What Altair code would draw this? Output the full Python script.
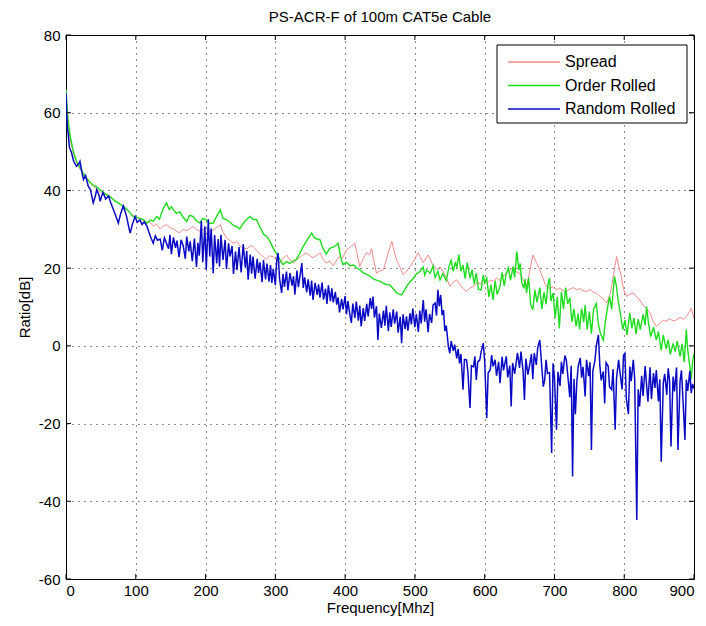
import altair as alt
import pandas as pd

# ---------------- data ----------------
chart_title = "PS-ACR-F of 100m CAT5e Cable"
x_title = "Frequency[Mhz]"
y_title = "Ratio[dB]"
x_ticks = [0, 100, 200, 300, 400, 500, 600, 700, 800, 900]
y_ticks = [-60, -40, -20, 0, 20, 40, 60, 80]
series_names = ["Spread", "Order Rolled", "Random Rolled"]
series_colors = ["#EE8C8C", "#1EDC1E", "#0A0AC4"]

# (frequency MHz, ratio dB)
spread_points = [
    (0, 66), (1, 62), (3, 57), (6, 53), (10, 50), (15, 47.2), (20, 45.5), (25, 44), (30, 42.8),
    (35, 42), (40, 41), (45, 40.2), (50, 39.5), (57, 38.8), (63, 38.3), (70, 37.4), (75, 36.8),
    (80, 36.2), (85, 35.5), (90, 34.6), (96, 33.5), (100, 33.2), (105, 32.8), (110, 32.2),
    (116, 31.5), (120, 31.9), (125, 30.8), (130, 31.4), (135, 30), (140, 30.9), (144, 31.2),
    (149, 30.4), (154, 30.2), (158, 29.5), (163, 29.1), (168, 30), (173, 29.6), (178, 30.2),
    (182, 30.8), (187, 29.9), (192, 29.5), (197, 30.1), (201, 28.7), (206, 29.4), (211, 29.8),
    (216, 30.5), (221, 31.2), (225, 29.3), (230, 27.8), (235, 27.1), (240, 26.4), (245, 26.9),
    (249, 25.7), (254, 25.2), (259, 24.9), (264, 25.8), (268, 25.6), (273, 24.6), (278, 23.6),
    (283, 22.9), (287, 22.2), (292, 23.2), (297, 22.9), (302, 22.1), (306, 21.3), (311, 22.5),
    (316, 23.4), (321, 22.1), (326, 21.3), (331, 22.3), (335, 22.8), (340, 23.5), (345, 23.9),
    (350, 23.1), (354, 22.7), (359, 23.3), (364, 23.9), (368, 22.4), (373, 21.3), (378, 21.9),
    (383, 20.6), (388, 22.1), (392, 23), (396, 22.5), (402, 24.7), (408, 25.5), (414, 26.4),
    (417, 23.8), (421, 20.4), (426, 22.5), (431, 24), (435, 23.4), (438, 25), (441, 22),
    (445, 18.7), (450, 19.3), (455, 19.6), (461, 23.5), (467, 26.9), (470, 24.5), (474, 22),
    (479, 20.1), (483, 18.3), (488, 19.2), (493, 20.4), (499, 22.1), (505, 24), (508, 22.8),
    (512, 21.4), (516, 22.6), (519, 23.4), (525, 21.1), (531, 19.6), (536, 20.3), (541, 19),
    (546, 17.2), (550, 15.3), (555, 16.4), (560, 17), (565, 15.6), (570, 14.6), (574, 14),
    (579, 14.9), (584, 15.3), (590, 16.4), (594, 15.8), (598, 17), (603, 16.1), (608, 16.9),
    (612, 16.6), (617, 17.5), (622, 16.8), (626, 17.9), (631, 18.5), (636, 19.4), (641, 20.4),
    (645, 19.1), (650, 18.7), (655, 17.1), (660, 15.3), (664, 18.6), (669, 23.4), (674, 21.5),
    (679, 19.6), (684, 17.2), (688, 15.3), (693, 14.8), (698, 15.2), (703, 14.4), (708, 14.9),
    (712, 14.1), (717, 14), (722, 14.6), (727, 15), (732, 14.4), (737, 14.8), (741, 14.2),
    (746, 14), (751, 14.5), (755, 13.9), (760, 13.6), (765, 12.8), (770, 12), (775, 11),
    (780, 13.5), (784, 17.5), (789, 23), (792, 20.5), (796, 17.9), (799, 14.6), (803, 12.7),
    (808, 13.3), (813, 13.6), (818, 12.6), (822, 11.8), (827, 10.5), (832, 9.6), (837, 8.4),
    (842, 6.2), (846, 5), (851, 5.8), (856, 6.6), (860, 6.3), (865, 7), (870, 6.4), (875, 6.7),
    (880, 7.3), (885, 6.9), (889, 7.5), (893, 8.6), (896, 9.7), (900, 7),
]

order_points = [
    (0, 66), (1, 63), (3, 58), (6, 54), (10, 50.5), (15, 47.5), (20, 46), (25, 44.3), (30, 43),
    (35, 42), (40, 41.2), (44, 40.9), (50, 40), (57, 39), (63, 38.5), (70, 37.3), (76, 36.6),
    (82, 36), (89, 34.8), (96, 33.3), (103, 33), (111, 32.5), (116, 31.6), (121, 32.4),
    (125, 32.1), (130, 33.3), (134, 32.6), (139, 35.2), (144, 36.8), (148, 35.1), (151, 35.8),
    (154, 35), (158, 34.1), (163, 34.5), (168, 33.1), (173, 32), (177, 33.6), (182, 33.3),
    (187, 32.2), (192, 31.6), (196, 32.8), (201, 32.4), (206, 31.5), (211, 31.6), (216, 33.4),
    (221, 35), (225, 32.8), (230, 32.5), (235, 31.8), (240, 31), (245, 30.6), (249, 30.1),
    (254, 31.5), (259, 32.6), (264, 33.3), (268, 32.5), (273, 32.5), (278, 30.6), (283, 28.8),
    (288, 28.1), (292, 27), (297, 25.1), (302, 23.6), (306, 22.4), (311, 20.9), (316, 21.7),
    (321, 21.2), (326, 21.9), (330, 22.2), (335, 23.8), (340, 25.6), (345, 27.1), (349, 28.2),
    (352, 29), (356, 27.8), (360, 27.5), (364, 27.3), (368, 25.2), (373, 23.6), (378, 25.1),
    (383, 25.4), (387, 25.9), (390, 26.4), (394, 22.5), (397, 20.9), (402, 21.5), (407, 20.6),
    (412, 20.8), (416, 20.2), (421, 19.6), (426, 18.8), (431, 18.4), (436, 17.9), (441, 17.2),
    (445, 16.9), (450, 16.6), (455, 16.1), (459, 15.8), (464, 15.7), (469, 14.7), (474, 13.6),
    (478, 13.3), (481, 13.1), (485, 14.3), (488, 15.3), (493, 16.5), (498, 17.4), (502, 18.5),
    (507, 19.1), (512, 20.3), (514, 18.2), (517, 19.5), (522, 18.7), (526, 20.6), (529, 17.6),
    (533, 19.2), (536, 17), (540, 18.6), (545, 16.8), (549, 20.5), (552, 22), (555, 19.2),
    (558, 21.6), (560, 20), (563, 23.5), (566, 19.2), (569, 20.8), (572, 17.3), (575, 21.4),
    (579, 17.4), (582, 19.6), (585, 15.9), (588, 18.7), (591, 14.6), (595, 14.4), (598, 18.3),
    (600, 16.2), (603, 17.4), (606, 12.6), (609, 15.7), (612, 11.8), (615, 16.8), (618, 13.2),
    (622, 15.3), (625, 18.9), (628, 15.4), (631, 18.7), (634, 20.1), (637, 16.9), (641, 20.4),
    (643, 17.6), (646, 24.3), (649, 19.5), (651, 21.2), (653, 16.4), (656, 14.8), (658, 17.2),
    (660, 13.6), (663, 17.5), (666, 10.6), (669, 9.3), (672, 14.4), (675, 11.2), (679, 15),
    (682, 9.5), (685, 13.8), (688, 10.7), (691, 16.2), (693, 17.4), (695, 11.5), (698, 13.6),
    (701, 7.2), (704, 12.6), (707, 4.5), (710, 13.9), (713, 9.5), (716, 15), (719, 10.8),
    (722, 12.4), (725, 6.2), (728, 9.5), (731, 5), (734, 8.3), (736, 4.2), (739, 9.6),
    (742, 6.1), (744, 10.5), (747, 4.2), (750, 8.8), (753, 3.1), (756, 9.4), (760, 10.9),
    (763, 5.5), (766, 3.2), (770, 1.5), (773, 6.3), (776, 9.8), (779, 12.7), (782, 9.4),
    (784, 13.8), (786, 17.9), (789, 15.2), (791, 12), (794, 8.8), (798, 4.2), (801, 6.6),
    (804, 2.8), (808, 8.5), (811, 4.5), (814, 7.2), (817, 3.1), (820, 6.9), (823, 4.2),
    (827, 8.1), (830, 5.3), (832, 10.1), (835, 5.6), (838, 2.4), (842, 4.8), (846, 1.5),
    (849, 3.7), (853, -1.2), (856, 2.8), (860, -0.8), (863, 1.6), (866, -2.2), (870, 0.6),
    (873, -1.5), (876, 1.2), (880, -2.7), (883, 0.5), (886, -4.2), (889, 4.2), (891, -1),
    (894, -5.3), (896, -8.5), (898, -4), (900, -2),
]

random_points = [
    (0, 65), (1, 60), (2, 56), (3, 54.8), (5, 51), (8, 49.7), (11, 47.5), (15, 46.2), (18, 46.8),
    (20, 47.5), (23, 44.5), (25, 42.8), (28, 43.8), (32, 41), (35, 40.2), (39, 36.8), (42, 38.5),
    (44, 40.2), (47, 38.9), (49, 37.2), (51, 38.5), (53, 39.4), (57, 37.8), (61, 38.6),
    (64, 36.9), (68, 35), (71, 33.6), (75, 31.6), (78, 33.8), (82, 36), (85, 34.4), (87, 33.2),
    (90, 30.5), (92, 29), (95, 31.2), (99, 33.3), (102, 31.8), (106, 32.4), (109, 31.2),
    (112, 31.9), (116, 30.8), (119, 29.2), (122, 27.7), (125, 26.4), (128, 28.3), (131, 27.2),
    (135, 27.5), (138, 24.6), (141, 27.8), (144, 26.4), (147, 25), (149, 28.6), (151, 23.6),
    (154, 27.9), (157, 25.2), (159, 27.1), (162, 22.8), (165, 27.3), (168, 25.7), (171, 22.4),
    (173, 28.1), (176, 24.3), (178, 26.9), (181, 21.8), (184, 27.6), (187, 20.3), (189, 26.5),
    (191, 23.2), (194, 32.2), (196, 21.5), (199, 30.8), (201, 19.6), (204, 32.6), (206, 23),
    (208, 30.2), (211, 18.7), (213, 28.5), (216, 21.2), (218, 27.5), (220, 20.4), (222, 28.6),
    (225, 22.1), (228, 27.3), (230, 19.8), (233, 26.4), (235, 23), (238, 25.7), (240, 18.5),
    (243, 24.3), (245, 19.5), (248, 25.4), (251, 18.9), (254, 26.2), (257, 20.1), (259, 24.4),
    (261, 17), (264, 23.5), (266, 18.6), (268, 23), (271, 17.3), (274, 22.4), (276, 18.8),
    (278, 21.5), (281, 16.4), (283, 22.1), (286, 17.1), (288, 21.2), (291, 16.5), (293, 20.8),
    (295, 16.2), (297, 19.8), (300, 15.6), (302, 22), (304, 23.9), (306, 17.4), (309, 13.6),
    (311, 18.5), (313, 15.2), (316, 19.1), (318, 14.3), (321, 18.7), (324, 15.5), (326, 17.9),
    (328, 13.2), (331, 19.4), (333, 15.1), (336, 18.8), (338, 21.3), (340, 14.9), (342, 17.6),
    (345, 13.8), (347, 17.1), (350, 12.9), (352, 16.8), (354, 11.8), (357, 16.2), (360, 13.1),
    (362, 15.8), (364, 12.4), (367, 16.3), (369, 11.9), (372, 14.7), (374, 10.8), (376, 15.6),
    (379, 11.5), (381, 14.8), (383, 11.2), (386, 13.9), (388, 10.6), (390, 12.5), (392, 8.6),
    (395, 12.1), (397, 9.4), (400, 12.8), (402, 8.1), (404, 11.5), (407, 7.8), (409, 5.9),
    (411, 10.9), (414, 7.2), (416, 11.4), (419, 6.5), (421, 10.4), (423, 5), (426, 9.7),
    (428, 6.4), (431, 10.8), (433, 7.6), (436, 12.3), (438, 9.5), (440, 12.7), (442, 7.3),
    (445, 10.2), (447, 1.5), (449, 8.3), (452, 4.6), (455, 9.1), (457, 5.2), (459, 10.3),
    (462, 3.8), (464, 8.6), (466, 4.9), (469, 9.4), (471, 5.7), (474, 8.8), (476, 3.4),
    (479, 7.5), (481, 0.7), (483, 8.1), (486, 4.3), (488, 7.6), (490, 3.9), (493, 8.4),
    (495, 5.5), (497, 9.6), (500, 4.8), (502, 8.2), (505, 3.6), (507, 9.1), (509, 5.8),
    (512, 11.8), (514, 6.2), (516, 9.4), (519, 3.5), (521, 8.2), (524, 5.9), (526, 10.5),
    (529, 11), (531, 7.8), (533, 14.4), (535, 10.2), (537, 13.1), (539, 7.9), (541, 9.2),
    (543, 3.8), (545, 5.2), (548, -0.2), (550, -1.9), (552, 1.2), (555, -1.3), (557, 0.3),
    (560, -3.2), (562, -0.8), (564, -4.5), (566, -2.1), (569, -11.3), (571, -3.5), (574, -3.6),
    (576, -6.8), (579, -16), (581, -5.1), (584, -5.4), (586, -2.7), (588, -8.8), (590, -4.2),
    (593, -3.6), (595, -1.5), (598, 0.7), (600, -3.8), (603, -18.6), (605, -6.9), (608, -6.2),
    (610, -2.4), (612, -5.3), (615, -3.6), (617, -7.7), (620, -4.1), (622, -9.6), (625, -2.8),
    (627, -6.3), (631, -2.7), (633, -8.1), (636, -5.1), (638, -15.6), (640, -4.4), (643, -7.2),
    (645, -4.5), (647, -1.8), (650, -5.7), (652, -1.5), (655, -6.3), (657, -13.9), (659, -3.3),
    (662, -7.4), (664, -5.4), (667, -2.1), (669, -8.6), (671, -1.9), (674, -4.9), (676, -0.5),
    (679, 1.5), (681, -3.4), (684, -10.5), (686, -8.8), (688, -3.6), (690, -7.1), (693, -6.9),
    (696, -27.6), (698, -4.5), (700, -8.2), (703, -21.6), (705, -6.7), (708, -10.3),
    (710, -4.1), (712, -7.2), (715, -2.5), (717, -3.6), (720, -9.3), (722, -13.2), (724, -5.1),
    (726, -33.6), (728, -8.5), (730, -17.6), (732, -9.6), (734, -5.3), (737, -3.1), (739, -8.2),
    (741, -5.4), (744, -13), (746, -3.6), (749, -7.8), (751, -4.2), (753, -26.8), (755, -6.5),
    (758, -3.8), (760, 0), (763, 2.8), (765, -4.9), (767, -8.9), (770, -6.6), (772, -14.8),
    (774, -4.3), (777, -5.2), (779, -10.6), (782, -11.3), (784, -6), (787, -21.6), (789, -8.2),
    (792, -3.6), (794, -6.9), (797, -11.2), (799, -2.4), (801, -1.9), (803, -13.6),
    (806, -17.6), (808, -5.3), (810, -9.1), (813, -3.6), (815, -8.4), (818, -44.8),
    (820, -11.2), (822, -15.6), (825, -7.7), (827, -12.9), (830, -5.2), (832, -9.9),
    (834, -14.4), (837, -5.5), (839, -13.7), (842, -7), (844, -10.8), (846, -6.2), (849, -14.3),
    (851, -8.6), (853, -29.8), (856, -9.5), (858, -7.2), (861, -12.6), (863, -5.8), (865, -8.9),
    (867, -25.9), (870, -7.9), (872, -11.7), (875, -5.6), (877, -26.8), (880, -9.1),
    (882, -6.3), (884, -13.1), (887, -24.2), (889, -8.7), (891, -11.6), (894, -6.5),
    (896, -12.2), (898, -9.8), (900, -11),
]

# ---------------- chart ----------------
W, H = 628, 544
FONT = "Liberation Sans"
FS = 15

all_points = [spread_points, order_points, random_points]
line_widths = [1.0, 1.4, 1.5]


def frame(points):
    return pd.DataFrame({"freq": [p[0] for p in points], "value": [p[1] for p in points]})


label_expr = "'' + datum.value"  # plain hyphen-minus, as in the reference

x_enc = alt.X(
    "freq:Q",
    scale=alt.Scale(domain=[0, 900], nice=False, zero=False),
    axis=alt.Axis(values=x_ticks, title=x_title, labelExpr=label_expr),
)
y_enc = alt.Y(
    "value:Q",
    scale=alt.Scale(domain=[-60, 80], nice=False, zero=False),
    axis=alt.Axis(values=y_ticks, title=y_title, labelExpr=label_expr),
)

layers = []
for pts, col, sw in zip(all_points, series_colors, line_widths):
    layers.append(
        alt.Chart(frame(pts))
        .mark_line(color=col, strokeWidth=sw, clip=True, interpolate="linear")
        .encode(x=x_enc, y=y_enc, order="freq:Q")
    )

# inward tick marks (MATLAB style) on all four sides
xt = pd.DataFrame({"freq": x_ticks})
yt = pd.DataFrame({"value": y_ticks})
tick_len = 5
layers.append(alt.Chart(xt).mark_rule(color="black", strokeWidth=1).encode(
    x="freq:Q", y=alt.value(H), y2=alt.value(H - tick_len)))
layers.append(alt.Chart(xt).mark_rule(color="black", strokeWidth=1).encode(
    x="freq:Q", y=alt.value(0), y2=alt.value(tick_len)))
layers.append(alt.Chart(yt).mark_rule(color="black", strokeWidth=1).encode(
    y="value:Q", x=alt.value(0), x2=alt.value(tick_len)))
layers.append(alt.Chart(yt).mark_rule(color="black", strokeWidth=1).encode(
    y="value:Q", x=alt.value(W), x2=alt.value(W - tick_len)))

# legend box (MATLAB style, inside the upper right corner)
one = pd.DataFrame({"k": [0]})
LX0, LX1, LY0, LY1 = 431, 621, 10, 88
layers.append(alt.Chart(one).mark_rect(fill="white", stroke="black", strokeWidth=1).encode(
    x=alt.value(LX0), x2=alt.value(LX1), y=alt.value(LY0), y2=alt.value(LY1)))
row_y = [27, 50.5, 74]
for name, col, ry in zip(series_names, series_colors, row_y):
    layers.append(alt.Chart(one).mark_rule(color=col, strokeWidth=1.5).encode(
        x=alt.value(442), x2=alt.value(494), y=alt.value(ry)))
    layers.append(alt.Chart(pd.DataFrame({"label": [name]})).mark_text(
        align="left", baseline="middle", font=FONT, fontSize=16, color="black").encode(
        x=alt.value(499), y=alt.value(ry), text="label:N"))

chart = (
    alt.layer(*layers)
    .properties(
        width=W,
        height=H,
        background="white",
        title=alt.TitleParams(chart_title, font=FONT, fontSize=FS, fontWeight="normal",
                              color="black", anchor="middle", offset=3),
        autosize=alt.AutoSizeParams(type="none"),
        padding={"left": 58, "top": 27, "right": 4, "bottom": 39},
    )
    .configure_view(stroke="black", strokeWidth=1)
    .configure_axis(
        domain=False,
        ticks=False,
        grid=True,
        gridColor="#000000",
        gridDash=[1, 5],
        gridWidth=1,
        gridOpacity=0.9,
        labelFont=FONT,
        labelFontSize=FS,
        labelColor="black",
        titleFont=FONT,
        titleFontSize=FS,
        titleFontWeight="normal",
        titleColor="black",
    )
    .configure_axisX(labelPadding=4, titlePadding=2)
    .configure_axisY(labelPadding=6, titlePadding=6)
)

chart.save("out.html", embed_options={"renderer": "svg", "actions": False})
